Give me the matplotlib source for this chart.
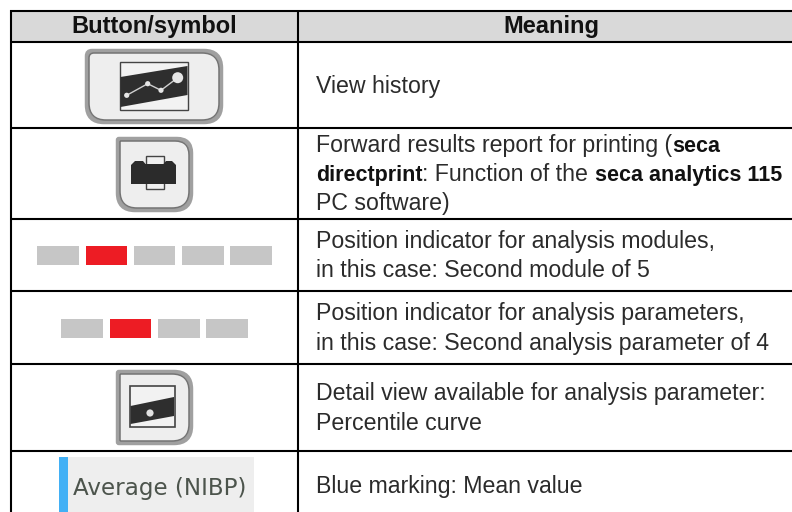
import matplotlib
matplotlib.use("Agg")
import matplotlib.pyplot as plt
from matplotlib.patches import Rectangle, Polygon, Circle, PathPatch
from matplotlib.path import Path

headers = ["Button/symbol", "Meaning"]
row_lines = [11, 41.5, 128, 218.5, 291, 364, 450.7]
meaning = [
    [[("View history", False)]],
    [[("Forward results report for printing (", False), ("seca", True)],
     [("directprint", True), (": Function of the ", False), ("seca analytics 115", True)],
     [("PC software)", False)]],
    [[("Position indicator for analysis modules,", False)], [("in this case: Second module of 5", False)]],
    [[("Position indicator for analysis parameters,", False)], [("in this case: Second analysis parameter of 4", False)]],
    [[("Detail view available for analysis parameter:", False)], [("Percentile curve", False)]],
    [[("Blue marking: Mean value", False)]],
]
text_y = [[93], [152, 181, 210], [248, 277], [320, 350], [400, 430], [493]]
badge_label = "Average (NIBP)"
indicator_5 = [37, 85.5, 133.5, 182, 230]
indicator_4 = [61, 109.5, 158, 206]

W, H = 792, 512
fig = plt.figure(figsize=(W/100, H/100), dpi=100)
ax = fig.add_axes([0, 0, 1, 1])
ax.set_xlim(0, W); ax.set_ylim(H, 0); ax.axis("off")
FONT = "Liberation Sans"
INK = "#2b2b2b"
FS = 16.7
FS_BOLD = 15.5

ax.add_patch(Rectangle((11, 11), 781, 30.5, fc="#d9d9d9", ec="none"))
ax.text(154.5, 33, headers[0], ha="center", va="baseline", fontsize=17, fontweight="bold", family=FONT, color="#111")
ax.text(551, 33, headers[1], ha="center", va="baseline", fontsize=17, fontweight="bold", family=FONT, color="#111")

for y in row_lines:
    ax.plot([10.2, 792], [y, y], color="black", lw=1.5, solid_capstyle="butt")
for x in (11, 297.6):
    ax.plot([x, x], [10.2, 512], color="black", lw=1.5, solid_capstyle="butt")

def rich(x, y, parts):
    r = fig.canvas.get_renderer()
    for s, b in parts:
        t = ax.text(x, y, s.replace(" ", "\u00a0"), ha="left", va="baseline", fontsize=FS_BOLD if b else FS, family=FONT,
                    fontweight="bold" if b else "normal", color="#111" if b else INK)
        x = ax.transData.inverted().transform(t.get_window_extent(r).extents[2:])[0]

for lines, ys in zip(meaning, text_y):
    for parts, y in zip(lines, ys):
        rich(316, y, parts)

def rpath(x0, y0, x1, y1, rtl, rtr, rbr, rbl):
    V = [(x0+rtl, y0), (x1-rtr, y0), (x1, y0), (x1, y0+rtr), (x1, y1-rbr), (x1, y1), (x1-rbr, y1),
         (x0+rbl, y1), (x0, y1), (x0, y1-rbl), (x0, y0+rtl), (x0, y0), (x0+rtl, y0), (x0+rtl, y0)]
    C = [Path.MOVETO, Path.LINETO, Path.CURVE3, Path.CURVE3, Path.LINETO, Path.CURVE3, Path.CURVE3,
         Path.LINETO, Path.CURVE3, Path.CURVE3, Path.LINETO, Path.CURVE3, Path.CURVE3, Path.CLOSEPOLY]
    return Path(V, C)

def button(x0, y0, x1, y1, radii):
    ax.add_patch(PathPatch(rpath(x0+2, y0+2, x1-2, y1-2, *radii), fc="#eeeeee", ec="#a0a0a0", lw=3.2, zorder=3))
    ax.add_patch(PathPatch(rpath(x0+4, y0+4, x1-4, y1-4, *radii), fc="#eeeeee", ec="#747474", lw=1.1, zorder=3.1))

# history icon
button(85, 49, 223, 124, (5, 17, 17, 17))
ax.add_patch(Rectangle((120, 61.5), 68, 48.5, fc="#f2f2f2", ec="#444", lw=1, zorder=4))
ax.add_patch(Polygon([(120.5, 77), (187.5, 66), (187.5, 95), (120.5, 107)], fc="#2e2e2e", ec="none", zorder=5))
px, py = [126.7, 147.7, 161, 177.7], [95.3, 83.7, 90.3, 77.7]
ax.plot(px, py, color="#d0d0d0", lw=1, zorder=6)
for x, y, r in zip(px, py, [2.6, 2.6, 2.6, 5.5]):
    ax.add_patch(Circle((x, y), r, fc="#e6e6e6", ec="none", zorder=7))

# printer icon
button(116, 137, 193, 212, (1, 14, 17, 17))
ax.add_patch(Rectangle((145.5, 155.5), 18, 33.5, fc="#f0f0f0", ec="#444", lw=1, zorder=4))
ax.add_patch(Polygon([(131, 165), (135, 161), (143, 161), (145.5, 164), (163.5, 164), (166, 161), (172, 161), (176, 165),
                      (176, 184), (131, 184)], fc="#2b2b2b", ec="none", zorder=5))

# position indicators
for xs, y0 in ((indicator_5, 246), (indicator_4, 319)):
    for i, x in enumerate(xs):
        ax.add_patch(Rectangle((x, y0), 41.7, 18.8, fc="#ed1c24" if i == 1 else "#c6c6c6", ec="none"))

# detail icon
button(116, 370, 193, 445, (1, 17, 17, 1))
ax.add_patch(Rectangle((130, 386), 44.5, 41, fc="#f2f2f2", ec="#444", lw=1.2, zorder=4))
ax.add_patch(Polygon([(130.5, 406), (174, 397), (174, 416), (130.5, 424)], fc="#2e2e2e", ec="none", zorder=5))
ax.add_patch(Circle((150, 413), 3.6, fc="#e0e0e0", ec="none", zorder=6))

# badge
ax.add_patch(Rectangle((59, 457), 195, 55, fc="#eeeeee", ec="none", zorder=1.5))
ax.add_patch(Rectangle((59, 457), 8.5, 55, fc="#42b0f5", ec="none", zorder=2))
ax.text(73, 495, badge_label, ha="left", va="baseline", fontsize=16.6, family="DejaVu Sans", color="#4c544c", zorder=3)

fig.savefig("out.png", dpi=100)
